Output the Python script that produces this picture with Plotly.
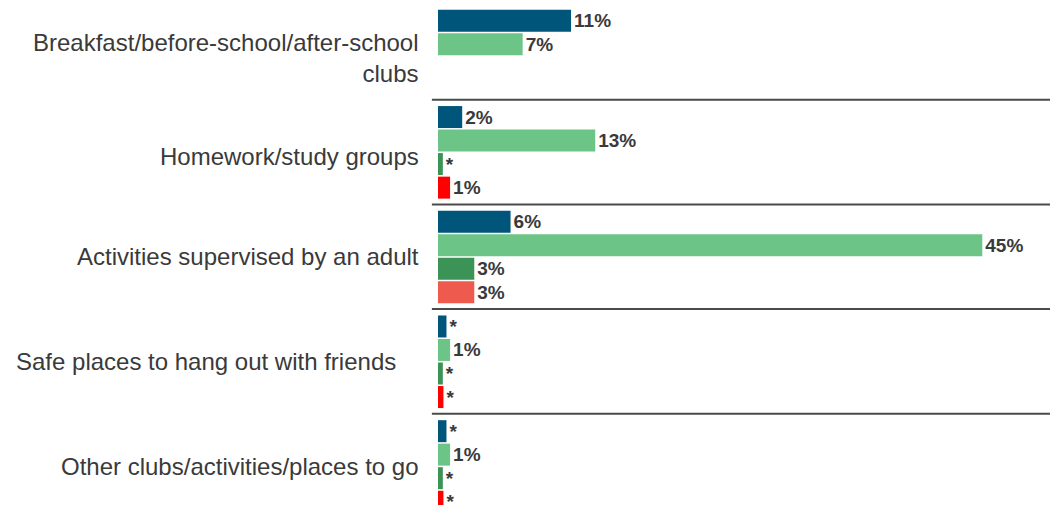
import plotly.graph_objects as go

# Categories (top to bottom)
categories = [
    "Breakfast/before-school/after-school<br>clubs",
    "Homework/study groups",
    "Activities supervised by an adult",
    "Safe places to hang out with friends",
    "Other clubs/activities/places to go",
]

# Series values (%); None = no bar; "*" marks a value below 0.5%
series_names = ["Series A", "Series B", "Series C", "Series D"]
values_a = [11, 2, 6, 0.7, 0.7]
values_b = [7, 13, 45, 1, 1]
values_c = [None, 0.4, 3, 0.4, 0.4]
values_d = [None, 1, 3, 0.45, 0.45]

labels_a = ["11%", "2%", "6%", "*", "*"]
labels_b = ["7%", "13%", "45%", "1%", "1%"]
labels_c = ["", "*", "3%", "*", "*"]
labels_d = ["", "1%", "3%", "*", "*"]

BLUE = "#00567a"
LIGHT_GREEN = "#6cc586"
DARK_GREEN = "#3b9456"
RED = "#ff0000"
SALMON = "#ee5a4e"

colors_a = [BLUE] * 5
colors_b = [LIGHT_GREEN] * 5
colors_c = [DARK_GREEN] * 5
colors_d = [RED, RED, SALMON, RED, RED]

TEXT_COLOR = "#3a3a3a"
FONT = "Liberation Sans, Arial, sans-serif"

positions = list(range(len(categories)))

# bar slot layout within each category band (axis units)
bar_width = 0.21
slot_offsets = [-0.439, -0.215, 0.01, 0.235]
first_group_shift = 0.08  # the two-bar group sits a little lower in its band

fig = go.Figure()
for i, (name, vals, labs, cols) in enumerate(zip(
        series_names,
        [values_a, values_b, values_c, values_d],
        [labels_a, labels_b, labels_c, labels_d],
        [colors_a, colors_b, colors_c, colors_d])):
    offs = [slot_offsets[i] + (first_group_shift if k == 0 else 0) for k in positions]
    fig.add_trace(go.Bar(
        name=name,
        orientation="h",
        y=positions,
        x=vals,
        width=bar_width,
        offset=offs,
        marker=dict(color=cols, line=dict(width=0)),
        text=labs,
        textposition="outside",
        textfont=dict(family=FONT, size=19, color=TEXT_COLOR, weight="bold"),
        cliponaxis=False,
        hoverinfo="skip",
    ))

# category labels drawn as annotations so each can be nudged
label_yshift = [-11, -4, 0, 0, 0]
label_xshift = [-17, -17, -17, -40, -17]
for k, cat in enumerate(categories):
    fig.add_annotation(
        x=0, xref="paper", y=k, yref="y",
        text=cat, showarrow=False,
        xanchor="right", yanchor="middle", align="right",
        xshift=label_xshift[k], yshift=label_yshift[k],
        font=dict(family=FONT, size=24, color=TEXT_COLOR),
    )

# separators between category bands
for k in positions[:-1]:
    fig.add_shape(
        type="line", xref="paper", yref="y",
        x0=-0.01, x1=1, y0=k + 0.5, y1=k + 0.5,
        line=dict(color="#4a4a4a", width=2),
    )

fig.update_layout(
    width=1050, height=505,
    margin=dict(l=438, r=0, t=0, b=0),
    paper_bgcolor="white", plot_bgcolor="white",
    barmode="overlay",
    showlegend=False,
    xaxis=dict(range=[0, 50.6], visible=False),
    yaxis=dict(range=[4.371, -0.452], visible=False),
)

fig.write_html("out.html")
